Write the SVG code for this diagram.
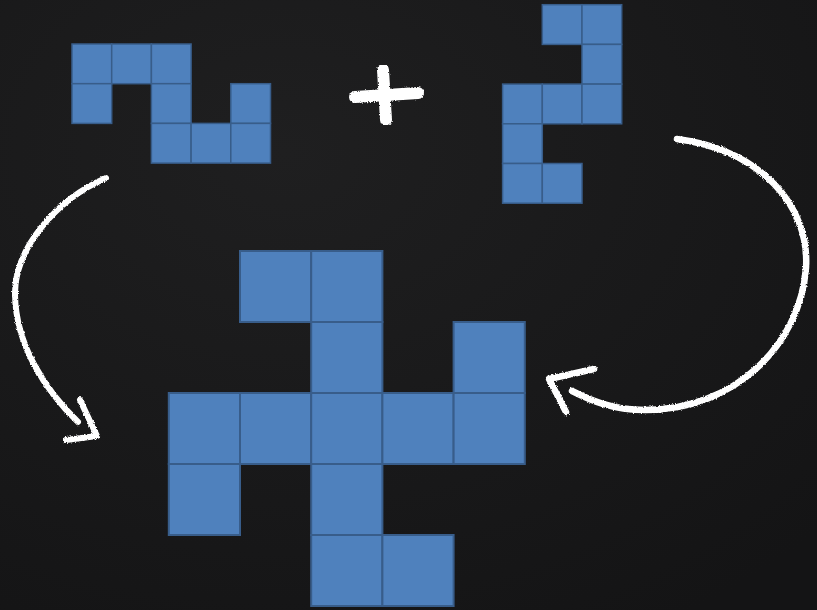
<svg xmlns="http://www.w3.org/2000/svg" width="817" height="610" viewBox="0 0 817 610">
  <defs>
    <radialGradient id="bg" cx="0.35" cy="0.25" r="0.9">
      <stop offset="0" stop-color="#1f1f20"/>
      <stop offset="1" stop-color="#141415"/>
    </radialGradient>
    <filter id="chalk" x="-10%" y="-10%" width="120%" height="120%">
      <feTurbulence type="fractalNoise" baseFrequency="0.9" numOctaves="2" seed="3" result="n"/>
      <feDisplacementMap in="SourceGraphic" in2="n" scale="3" xChannelSelector="R" yChannelSelector="G"/>
    </filter>
    <style>
      .s { fill: #4f81bd; stroke: #385d8a; stroke-width: 1.5; }
      .b { fill: #4f81bd; stroke: #385d8a; stroke-width: 2; }
      .c { fill: none; stroke: #ffffff; stroke-linecap: round; stroke-linejoin: round; }
    </style>
  </defs>
  <rect width="817" height="610" fill="url(#bg)"/>

  <g id="piece-left">
    <rect class="s" x="72" y="44" width="39.7" height="39.7"/>
    <rect class="s" x="111.7" y="44" width="39.7" height="39.7"/>
    <rect class="s" x="151.4" y="44" width="39.7" height="39.7"/>
    <rect class="s" x="72" y="83.7" width="39.7" height="39.7"/>
    <rect class="s" x="151.4" y="83.7" width="39.7" height="39.7"/>
    <rect class="s" x="230.8" y="83.7" width="39.7" height="39.7"/>
    <rect class="s" x="151.4" y="123.4" width="39.7" height="39.7"/>
    <rect class="s" x="191.1" y="123.4" width="39.7" height="39.7"/>
    <rect class="s" x="230.8" y="123.4" width="39.7" height="39.7"/>
  </g>

  <g id="piece-right">
    <rect class="s" x="542.3" y="4.7" width="39.7" height="39.7"/>
    <rect class="s" x="582" y="4.7" width="39.7" height="39.7"/>
    <rect class="s" x="582" y="44.4" width="39.7" height="39.7"/>
    <rect class="s" x="502.6" y="84.1" width="39.7" height="39.7"/>
    <rect class="s" x="542.3" y="84.1" width="39.7" height="39.7"/>
    <rect class="s" x="582" y="84.1" width="39.7" height="39.7"/>
    <rect class="s" x="502.6" y="123.8" width="39.7" height="39.7"/>
    <rect class="s" x="502.6" y="163.5" width="39.7" height="39.7"/>
    <rect class="s" x="542.3" y="163.5" width="39.7" height="39.7"/>
  </g>

  <g id="piece-result">
    <rect class="b" x="240" y="251" width="71.2" height="71"/>
    <rect class="b" x="311.2" y="251" width="71.2" height="71"/>
    <rect class="b" x="311.2" y="322" width="71.2" height="71"/>
    <rect class="b" x="453.6" y="322" width="71.2" height="71"/>
    <rect class="b" x="168.8" y="393" width="71.2" height="71"/>
    <rect class="b" x="240" y="393" width="71.2" height="71"/>
    <rect class="b" x="311.2" y="393" width="71.2" height="71"/>
    <rect class="b" x="382.4" y="393" width="71.2" height="71"/>
    <rect class="b" x="453.6" y="393" width="71.2" height="71"/>
    <rect class="b" x="168.8" y="464" width="71.2" height="71"/>
    <rect class="b" x="311.2" y="464" width="71.2" height="71"/>
    <rect class="b" x="311.2" y="535" width="71.2" height="71"/>
    <rect class="b" x="382.4" y="535" width="71.2" height="71"/>
  </g>

  <g id="plus" filter="url(#chalk)">
    <path class="c" d="M383,70 L386,120" stroke-width="12"/>
    <path class="c" d="M355,97 L418,93" stroke-width="12"/>
  </g>

  <g id="connectors" filter="url(#chalk)">
    <path class="c" d="M106,178 C55,200 14,250 15,295 C16,345 45,390 78,422" stroke-width="6"/>
    <path class="c" d="M80,400 L97,436 L66,440" stroke-width="6"/>
    <path class="c" d="M677,139 C760,150 810,205 806,268 C800,345 735,410 645,410 C612,410 590,400 572,391" stroke-width="6.5"/>
    <path class="c" d="M594,369 L549,379 L566,412" stroke-width="6.5"/>
  </g>
</svg>
